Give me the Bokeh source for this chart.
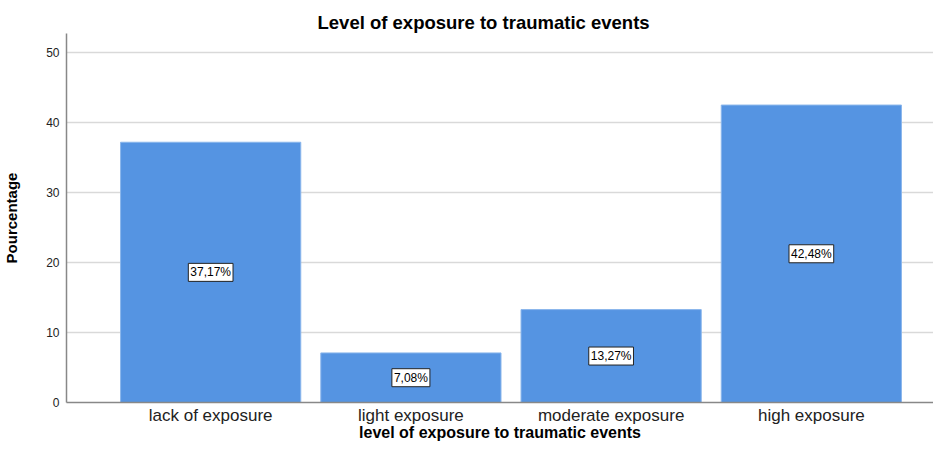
from bokeh.plotting import figure
from bokeh.models import ColumnDataSource, Range1d, FixedTicker, Label, Title
from bokeh.embed import file_html
from bokeh.resources import INLINE

categories = ["lack of exposure", "light exposure", "moderate exposure", "high exposure"]
values = [37.17, 7.08, 13.27, 42.48]
y_ticks = [0, 10, 20, 30, 40, 50]

xs = list(range(len(categories)))
labels = [f"{v:.2f}%".replace(".", ",") for v in values]
src = ColumnDataSource(dict(x=xs, top=values))

FONT = "Liberation Sans"

p = figure(width=933, height=443, output_backend="svg", toolbar_location=None,
           x_range=Range1d(-0.72, 3.61), y_range=Range1d(0, 52.7),
           min_border_left=59, min_border_right=0, min_border_top=33, min_border_bottom=0)
p.title = Title(text="Level of exposure to traumatic events", align="left", offset=251,
                text_font=FONT, text_font_size="18.5px", text_font_style="bold", text_color="#000000",
                standoff=2)
p.outline_line_color = None
p.background_fill_color = "white"

p.vbar(x="x", top="top", width=0.9, source=src, fill_color="#5594E2",
       line_color="#8AB6EC", line_width=1)

for xi, v, lab in zip(xs, values, labels):
    p.add_layout(Label(x=xi, y=v / 2, text=lab, text_align="center",
                       text_baseline="middle", text_font_size="12px", text_font=FONT,
                       text_color="#000000", background_fill_color="white",
                       border_line_color="#222222", border_line_width=1, padding=2))

p.xgrid.grid_line_color = None
p.ygrid.ticker = FixedTicker(ticks=y_ticks)
p.ygrid.grid_line_color = "#d9d9d9"
p.ygrid.grid_line_width = 1.5

p.yaxis.ticker = FixedTicker(ticks=y_ticks)
p.yaxis.axis_label = "Pourcentage"
p.yaxis.axis_label_text_font = FONT
p.yaxis.axis_label_text_font_size = "15px"
p.yaxis.axis_label_text_font_style = "bold"
p.yaxis.axis_label_text_color = "#000000"
p.yaxis.axis_label_standoff = 23
p.yaxis.major_label_text_font = FONT
p.yaxis.major_label_text_font_size = "12px"
p.yaxis.major_label_text_color = "#222222"
p.yaxis.major_label_standoff = 7
p.yaxis.major_tick_line_color = None
p.yaxis.major_tick_out = 0
p.yaxis.major_tick_in = 0
p.yaxis.minor_tick_line_color = None
p.yaxis.axis_line_color = "#888888"
p.yaxis.axis_line_width = 1.5

p.xaxis.ticker = FixedTicker(ticks=xs)
p.xaxis.major_label_overrides = {i: c for i, c in zip(xs, categories)}
p.xaxis.axis_label = "level of exposure to traumatic events"
p.xaxis.axis_label_text_font = FONT
p.xaxis.axis_label_text_font_size = "16px"
p.xaxis.axis_label_text_font_style = "bold"
p.xaxis.axis_label_text_color = "#000000"
p.xaxis.axis_label_standoff = -4
p.xaxis.major_label_text_font = FONT
p.xaxis.major_label_text_font_size = "17px"
p.xaxis.major_label_text_color = "#222222"
p.xaxis.major_label_standoff = 3
p.xaxis.major_tick_line_color = None
p.xaxis.major_tick_out = 0
p.xaxis.major_tick_in = 0
p.xaxis.minor_tick_line_color = None
p.xaxis.axis_line_color = "#888888"
p.xaxis.axis_line_width = 1.5

open("out.html", "w").write(file_html(p, INLINE))
